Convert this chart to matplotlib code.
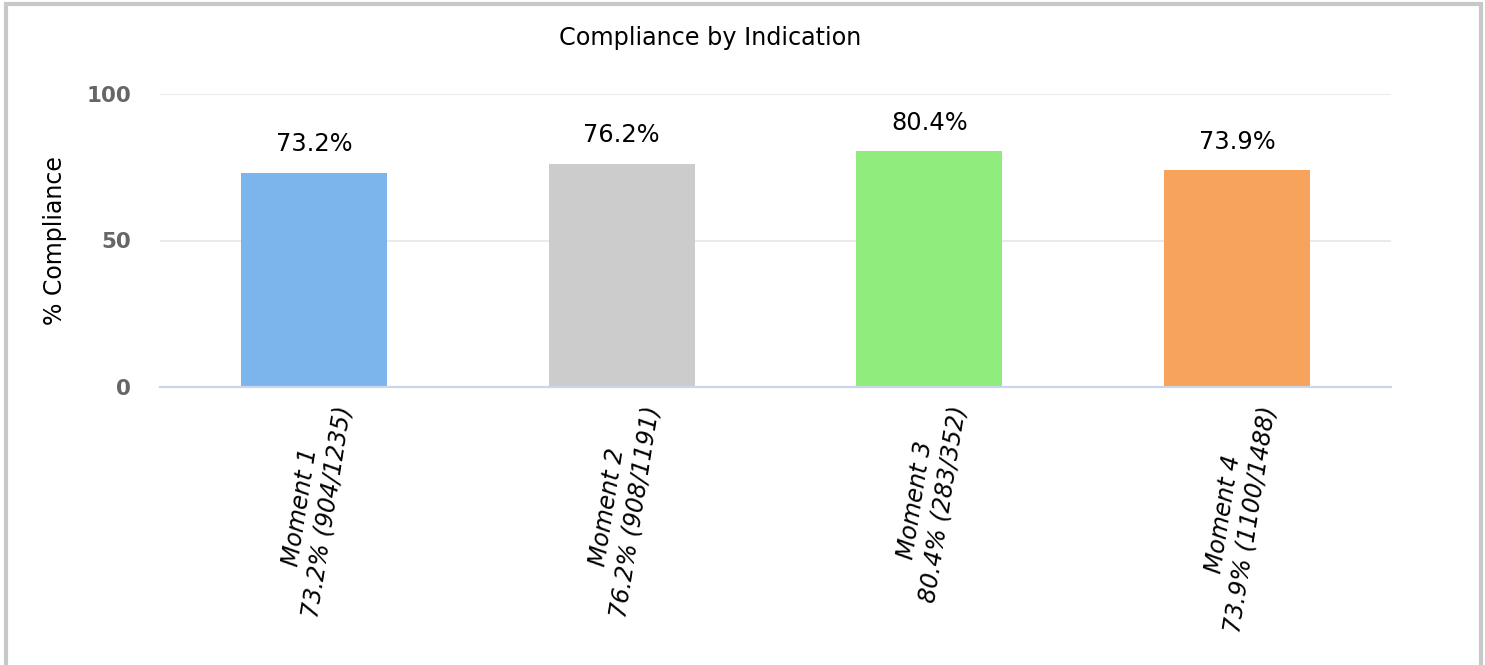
import matplotlib.pyplot as plt
from matplotlib.patches import Rectangle

# data
moments = ['Moment 1', 'Moment 2', 'Moment 3', 'Moment 4']
compliance = [73.2, 76.2, 80.4, 73.9]
compliant = [904, 908, 283, 1100]
observed = [1235, 1191, 352, 1488]
colors = ['#7cb5ec', '#cccccc', '#90ed7d', '#f7a35c']

fig = plt.figure(figsize=(14.85, 6.65), dpi=100)
ax = fig.add_axes([160 / 1485, 1 - 387 / 665, 1231 / 1485, 293 / 665])

x = range(len(moments))
ax.bar(x, compliance, width=0.475, color=colors, zorder=3)

for i, v in enumerate(compliance):
    ax.annotate(f'{v}%', (i, v), xytext=(0, 12), textcoords='offset points',
                ha='center', va='bottom', fontsize=17.4, color='black')

labels = [f'{m}\n{p}% ({c}/{n})' for m, p, c, n in zip(moments, compliance, compliant, observed)]
ax.set_xticks(list(x))
ax.set_xticklabels(labels, rotation=81, ha='center', va='top', fontsize=17,
                   style='italic', multialignment='center')
ax.set_xlim(-0.5, 3.5)
ax.set_ylim(0, 100)
ax.set_yticks([0, 50, 100])
ax.tick_params(axis='y', length=0, pad=21, labelsize=15.5, labelcolor='#666666')
ax.tick_params(axis='x', length=0, pad=9)
for t in ax.get_yticklabels():
    t.set_fontweight('bold')

ax.grid(axis='y', color='#e6e6e6', linewidth=1.2, zorder=0)
ax.set_axisbelow(True)
for s in ['top', 'right', 'left']:
    ax.spines[s].set_visible(False)
ax.spines['bottom'].set_color('#ccd6eb')
ax.spines['bottom'].set_linewidth(1.6)
ax.spines['bottom'].set_zorder(4)

ax.set_ylabel('% Compliance', fontsize=17, labelpad=14)
fig.text(710 / 1485, 1 - 38 / 665, 'Compliance by Indication', ha='center', va='center', fontsize=17.2)

# grey frame round the chart
fig.patches.append(Rectangle((5.5 / 1485, -0.1), 1475 / 1485, 1.1 - 3.5 / 665,
                             transform=fig.transFigure, fill=False,
                             edgecolor='#c8c8c8', linewidth=3))

plt.savefig('out.png', dpi=100)
